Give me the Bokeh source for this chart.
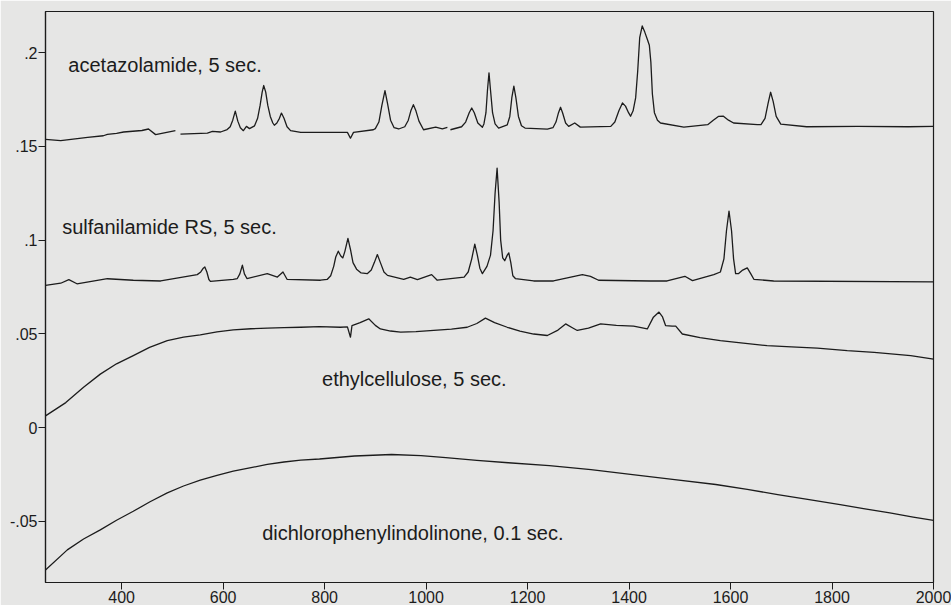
import numpy as np
from bokeh.plotting import figure
from bokeh.models import Label, FixedTicker, CustomJSTickFormatter, Range1d
from bokeh.embed import file_html
from bokeh.resources import INLINE

nan = float("nan")

# Raman shift (cm-1) and intensity
aceta_x = [250, 280, 333, 364, 372, 390, 404, 440, 453, 467, 506, 511, 516, 569, 579, 595,
           608, 614, 619, 624, 629, 634, 640, 646, 652,
           662, 668, 673, 677, 680, 684, 688, 693, 698, 701,
           706, 711, 715, 720, 726, 733,
           753, 792, 845, 851, 857, 896,
           900, 907, 913, 919, 924, 930, 937, 946,
           958, 965, 970, 975, 980, 986, 995, 1019, 1032, 1042, 1045, 1048,
           1070, 1078, 1085, 1090, 1095, 1102, 1111,
           1114, 1118, 1121, 1124, 1127, 1131, 1136, 1143,
           1160, 1165, 1169, 1173, 1177, 1182, 1188, 1195, 1239,
           1250, 1256, 1261, 1265, 1269, 1275, 1281, 1293, 1304,
           1364, 1372, 1380, 1387, 1393, 1399, 1403, 1408, 1413, 1417, 1421, 1426, 1431,
           1436, 1440, 1443, 1446, 1450, 1456, 1462, 1508,
           1555, 1566, 1576, 1586, 1596, 1606, 1653,
           1660, 1668, 1674, 1679, 1684, 1690, 1699, 1750, 1850, 1950, 2000]
aceta_y = [0.1538, 0.1531, 0.1548, 0.1557, 0.1564, 0.1570, 0.1577, 0.1585, 0.1593, 0.1563,
           0.1584, nan, 0.1566, 0.1571, 0.1580, 0.1577,
           0.1590, 0.1605, 0.1640, 0.1688, 0.1635, 0.1600, 0.1584, 0.1607, 0.1595,
           0.1610, 0.1650, 0.1720, 0.1790, 0.1825, 0.1790, 0.1720, 0.1660, 0.1625, 0.1613,
           0.1625, 0.1650, 0.1678, 0.1650, 0.1605, 0.1584,
           0.1575, 0.1575, 0.1575, 0.1544, 0.1575, 0.1589,
           0.1595, 0.1630, 0.1720, 0.1798, 0.1730, 0.1640, 0.1600, 0.1593,
           0.1605, 0.1640, 0.1690, 0.1723, 0.1690, 0.1635, 0.1589, 0.1603, 0.1594, 0.1602,
           nan, 0.1589,
           0.1605, 0.1630, 0.1680, 0.1705, 0.1680, 0.1625, 0.1602,
           0.1620, 0.1680, 0.1800, 0.1893, 0.1800, 0.1680, 0.1620, 0.1598,
           0.1615, 0.1660, 0.1760, 0.1822, 0.1760, 0.1660, 0.1610, 0.1598, 0.1592,
           0.1600, 0.1630, 0.1680, 0.1709, 0.1680, 0.1625, 0.1607, 0.1625, 0.1603,
           0.1607, 0.1630, 0.1690, 0.1732, 0.1715, 0.1680, 0.1661, 0.1690, 0.1759, 0.1900,
           0.2080, 0.2143, 0.2110,
           0.2072, 0.2040, 0.1950, 0.1780, 0.1680, 0.1640, 0.1625, 0.1603,
           0.1616, 0.1640, 0.1660, 0.1661, 0.1640, 0.1625, 0.1616,
           0.1616, 0.1650, 0.1730, 0.1789, 0.1740, 0.1660, 0.1619, 0.1605, 0.1607, 0.1605,
           0.1607]

sulfa_x = [250, 280, 296, 312, 372, 423, 477,
           549, 556, 561, 564, 568, 572, 575, 620,
           628, 633, 638, 642, 647, 687, 707, 718, 726, 792,
           805, 812, 818, 822, 827, 832, 836, 840, 846, 851, 856, 863, 872,
           884, 892, 898, 904, 910, 917, 924,
           956, 969, 983, 1011, 1022,
           1075, 1083, 1090, 1096, 1101, 1106, 1111,
           1120, 1127, 1132, 1136, 1140, 1144, 1147, 1151, 1155, 1160, 1163, 1167, 1171, 1176,
           1212, 1251, 1308, 1324, 1340, 1442, 1475, 1510, 1525,
           1567, 1580, 1587, 1592, 1597, 1602, 1606, 1610, 1616, 1624, 1633, 1640, 1646,
           1685, 2000]
sulfa_y = [0.0759, 0.0770, 0.0789, 0.0767, 0.0794, 0.0786, 0.0782,
           0.0816, 0.0830, 0.0850, 0.0857, 0.0830, 0.0790, 0.0780, 0.0791,
           0.0795, 0.0820, 0.0866, 0.0820, 0.0795, 0.0821, 0.0803, 0.0830, 0.0791, 0.0786,
           0.0790, 0.0810, 0.0860, 0.0910, 0.0941, 0.0915, 0.0905, 0.0940, 0.1009, 0.0950,
           0.0880, 0.0845, 0.0825,
           0.0821, 0.0840, 0.0880, 0.0923, 0.0880, 0.0830, 0.0812,
           0.0791, 0.0803, 0.0789, 0.0816, 0.0786,
           0.0803, 0.0830, 0.0900, 0.0979, 0.0920, 0.0850, 0.0821,
           0.0860, 0.0920, 0.1050, 0.1250, 0.1384, 0.1200, 0.1000, 0.0905, 0.0890, 0.0920,
           0.0932, 0.0880, 0.0810, 0.0795,
           0.0782, 0.0782, 0.0816, 0.0807, 0.0786, 0.0782, 0.0782, 0.0807, 0.0784,
           0.0816, 0.0830, 0.0900, 0.1050, 0.1155, 0.1050, 0.0900, 0.0821, 0.0822, 0.0840,
           0.0852, 0.0820, 0.0791,
           0.0782, 0.0777]

ethyl_x = [250, 290, 325, 358, 390, 423, 455, 490, 522, 555, 588, 620, 655, 687, 720, 753,
           790, 831, 845, 851, 854, 870, 887, 900, 910, 930, 950, 980, 1015, 1050, 1081,
           1100, 1117, 1135, 1160, 1185, 1212, 1239, 1260, 1275, 1290, 1298, 1320, 1344,
           1375, 1409, 1436, 1448, 1459, 1466, 1472, 1485, 1492, 1505, 1540, 1580, 1625,
           1672, 1720, 1771, 1830, 1883, 1955, 2000]
ethyl_y = [0.0062, 0.0133, 0.0215, 0.0285, 0.0340, 0.0384, 0.0428, 0.0464, 0.0482, 0.0494,
           0.0510, 0.0521, 0.0527, 0.0530, 0.0533, 0.0535,
           0.0538, 0.0535, 0.0537, 0.0482, 0.0544, 0.0560, 0.0580, 0.0545, 0.0526, 0.0515,
           0.0509, 0.0512, 0.0518, 0.0525, 0.0535,
           0.0555, 0.0584, 0.0560, 0.0535, 0.0515, 0.0499, 0.0491, 0.0520, 0.0553, 0.0530,
           0.0518, 0.0530, 0.0553,
           0.0545, 0.0541, 0.0526, 0.0589, 0.0616, 0.0590, 0.0544, 0.0541, 0.0541, 0.0499,
           0.0480, 0.0464, 0.0450,
           0.0437, 0.0430, 0.0424, 0.0410, 0.0401, 0.0384, 0.0365]

dichloro_x = [250, 293, 325, 358, 390, 423, 456, 490, 522, 555, 588, 620, 655, 687, 720,
              753, 790, 859, 932, 990, 1039, 1100, 1162, 1243, 1325, 1407, 1490, 1571,
              1633, 1693, 1755, 1816, 1865, 1914, 1960, 2000]
dichloro_y = [-0.0760, -0.0653, -0.0595, -0.0546, -0.0495, -0.0447, -0.0396, -0.0349,
              -0.0312, -0.0281, -0.0255, -0.0233, -0.0214, -0.0197, -0.0184,
              -0.0174, -0.0168, -0.0152, -0.0144, -0.0150, -0.0161, -0.0175, -0.0188,
              -0.0203, -0.0225, -0.0251, -0.0278, -0.0304,
              -0.0330, -0.0358, -0.0385, -0.0412, -0.0434, -0.0456, -0.0478, -0.0495]

series_names = ["acetazolamide, 5 sec.", "sulfanilamide RS, 5 sec.",
                "ethylcellulose, 5 sec.", "dichlorophenylindolinone, 0.1 sec."]
label_x = [295, 283, 795, 677]
label_y = [0.1934, 0.1071, 0.0258, -0.0563]

x_ticks = [400, 600, 800, 1000, 1200, 1400, 1600, 1800, 2000]
y_ticks = [-0.05, 0, 0.05, 0.1, 0.15, 0.2]

FONT = "Liberation Sans"
BG = "#e6e6e5"
INK = "#1c1c1c"

p = figure(width=951, height=605, output_backend="svg", toolbar_location=None,
           x_range=Range1d(250, 2000), y_range=Range1d(-0.0827, 0.222),
           min_border_left=45, min_border_right=18, min_border_top=11, min_border_bottom=22)
p.background_fill_color = BG
p.border_fill_color = BG
p.outline_line_color = INK
p.outline_line_width = 1.2
p.grid.visible = False

for xs, ys in [(aceta_x, aceta_y), (sulfa_x, sulfa_y), (ethyl_x, ethyl_y), (dichloro_x, dichloro_y)]:
    p.line(xs, ys, line_color=INK, line_width=1.3, line_join="round")

for name, lx, ly in zip(series_names, label_x, label_y):
    p.add_layout(Label(x=lx, y=ly, text=name, text_font=FONT, text_font_size="20px",
                       text_color=INK, text_baseline="alphabetic", text_align="left"))

p.xaxis.ticker = FixedTicker(ticks=x_ticks)
p.yaxis.ticker = FixedTicker(ticks=y_ticks)
p.yaxis.formatter = CustomJSTickFormatter(code="""
if (Math.abs(tick) < 1e-9) return "0";
var s = tick.toFixed(2).replace(/0+$/, '');
return s.replace(/^(-?)0\\./, '$1.');
""")
for ax in [p.xaxis[0], p.yaxis[0]]:
    ax.major_tick_out = 7
    ax.major_tick_in = 0
    ax.minor_tick_out = 0
    ax.minor_tick_in = 0
    ax.axis_line_color = INK
    ax.axis_line_width = 1.2
    ax.major_tick_line_color = INK
    ax.major_label_text_font = FONT
    ax.major_label_text_font_size = "16px"
    ax.major_label_text_color = INK
    ax.major_label_standoff = 1

open("out.html", "w").write(file_html(p, INLINE))
